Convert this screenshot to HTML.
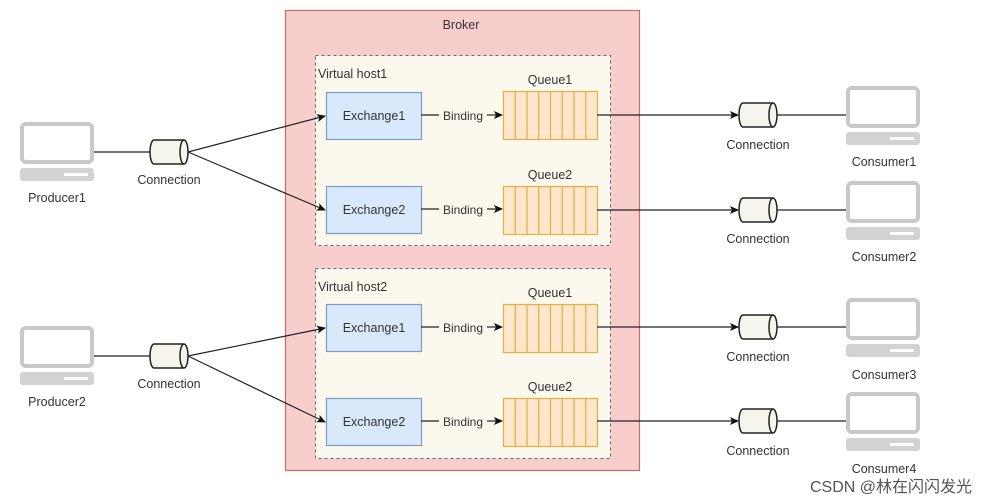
<!DOCTYPE html>
<html><head><meta charset="utf-8"><style>
html,body{margin:0;padding:0;background:#fff;width:986px;height:504px;overflow:hidden}
svg text{font-family:"Liberation Sans",Arial,sans-serif;font-size:12.5px;fill:#333}
</style></head><body>
<svg width="986" height="504" viewBox="0 0 986 504" xmlns="http://www.w3.org/2000/svg">
<defs>
<marker id="a" markerWidth="10" markerHeight="10" refX="8" refY="4" orient="auto" markerUnits="userSpaceOnUse"><path d="M0,0 L9,4 L0,8 L2,4 Z" fill="#111"/></marker>
<g id="lap"><rect x="2" y="2" width="70" height="38" rx="4" fill="#fff" stroke="#c9c9c9" stroke-width="4"/><rect x="0" y="46" width="74" height="13" rx="3" fill="#d2d2d2"/><rect x="44" y="51" width="24" height="3" fill="#fff"/></g>
<g id="cyl"><path d="M-15,-12 H15 A4,12 0 0 1 15,12 H-15 A4,12 0 0 1 -15,-12 Z" fill="#f5f5ee" stroke="#222" stroke-width="1.5"/><path d="M15,-12 A4,12 0 0 0 15,12" fill="none" stroke="#222" stroke-width="1.5"/></g>
<g id="q"><rect x="0" y="0" width="94" height="48" fill="#ffe6cc" stroke="#e0b040" stroke-width="1.2"/>
<path d="M11.75,0V48M23.5,0V48M35.25,0V48M47,0V48M58.75,0V48M70.5,0V48M82.25,0V48" stroke="#e0b040" stroke-width="1.2"/></g>
</defs>
<rect x="285.5" y="10.5" width="354" height="460" fill="#f8cecc" stroke="#c76b68" stroke-width="1.2"/>
<text x="461" y="29" text-anchor="middle">Broker</text>
<rect x="315.5" y="55.5" width="295" height="190" fill="#fbf8ee" stroke="#666" stroke-dasharray="3,3"/>
<rect x="315.5" y="268.5" width="295" height="190" fill="#fbf8ee" stroke="#666" stroke-dasharray="3,3"/>
<text x="318" y="78">Virtual host1</text>
<text x="318" y="291">Virtual host2</text>

<g fill="#dae8fc" stroke="#7a9cc8" stroke-width="1.2">
<rect x="326.5" y="92.5" width="95" height="47"/><rect x="326.5" y="186.5" width="95" height="47"/>
<rect x="326.5" y="304.5" width="95" height="47"/><rect x="326.5" y="398.5" width="95" height="47"/>
</g>
<text x="374" y="120" text-anchor="middle">Exchange1</text>
<text x="374" y="214" text-anchor="middle">Exchange2</text>
<text x="374" y="332" text-anchor="middle">Exchange1</text>
<text x="374" y="426" text-anchor="middle">Exchange2</text>

<use href="#q" x="503.5" y="91.5"/><use href="#q" x="503.5" y="186.5"/>
<use href="#q" x="503.5" y="304.5"/><use href="#q" x="503.5" y="398.5"/>
<text x="550" y="84" text-anchor="middle">Queue1</text>
<text x="550" y="179" text-anchor="middle">Queue2</text>
<text x="550" y="297" text-anchor="middle">Queue1</text>
<text x="550" y="391" text-anchor="middle">Queue2</text>

<g stroke="#222" stroke-width="1.2" fill="none">
<line x1="421" y1="115" x2="439" y2="115"/><line x1="421" y1="209" x2="439" y2="209"/>
<line x1="421" y1="327" x2="439" y2="327"/><line x1="421" y1="421" x2="439" y2="421"/>
<line x1="487" y1="115" x2="502" y2="115" marker-end="url(#a)"/>
<line x1="487" y1="209" x2="502" y2="209" marker-end="url(#a)"/>
<line x1="487" y1="327" x2="502" y2="327" marker-end="url(#a)"/>
<line x1="487" y1="421" x2="502" y2="421" marker-end="url(#a)"/>
<line x1="94" y1="152" x2="150" y2="152"/><line x1="94" y1="356" x2="150" y2="356"/>
<line x1="188" y1="152" x2="325" y2="116" marker-end="url(#a)"/>
<line x1="188" y1="152" x2="325" y2="210" marker-end="url(#a)"/>
<line x1="188" y1="356" x2="325" y2="328" marker-end="url(#a)"/>
<line x1="188" y1="356" x2="325" y2="422" marker-end="url(#a)"/>
<line x1="597" y1="115" x2="738" y2="115" marker-end="url(#a)"/>
<line x1="597" y1="210" x2="738" y2="210" marker-end="url(#a)"/>
<line x1="597" y1="327" x2="738" y2="327" marker-end="url(#a)"/>
<line x1="597" y1="421" x2="738" y2="421" marker-end="url(#a)"/>
<line x1="777" y1="115" x2="846" y2="115"/><line x1="777" y1="210" x2="846" y2="210"/>
<line x1="777" y1="327" x2="846" y2="327"/><line x1="777" y1="421" x2="846" y2="421"/>
</g>
<g style="font-size:12px">
<text x="463" y="120" text-anchor="middle" style="font-size:12px">Binding</text>
<text x="463" y="214" text-anchor="middle" style="font-size:12px">Binding</text>
<text x="463" y="332" text-anchor="middle" style="font-size:12px">Binding</text>
<text x="463" y="426" text-anchor="middle" style="font-size:12px">Binding</text>
</g>

<use href="#lap" x="20" y="122"/><use href="#lap" x="20" y="326"/>
<text x="57" y="202" text-anchor="middle">Producer1</text>
<text x="57" y="406" text-anchor="middle">Producer2</text>
<use href="#cyl" x="169" y="152"/><use href="#cyl" x="169" y="356"/>
<text x="169" y="184" text-anchor="middle">Connection</text>
<text x="169" y="388" text-anchor="middle">Connection</text>

<use href="#cyl" x="758" y="115"/><use href="#cyl" x="758" y="210"/>
<use href="#cyl" x="758" y="327"/><use href="#cyl" x="758" y="421"/>
<text x="758" y="149" text-anchor="middle">Connection</text>
<text x="758" y="243" text-anchor="middle">Connection</text>
<text x="758" y="361" text-anchor="middle">Connection</text>
<text x="758" y="455" text-anchor="middle">Connection</text>

<use href="#lap" x="846" y="86"/><use href="#lap" x="846" y="181"/>
<use href="#lap" x="846" y="298"/><use href="#lap" x="846" y="392"/>
<text x="884" y="166" text-anchor="middle">Consumer1</text>
<text x="884" y="261" text-anchor="middle">Consumer2</text>
<text x="884" y="379" text-anchor="middle">Consumer3</text>
<text x="884" y="473" text-anchor="middle">Consumer4</text>

<text x="972" y="492" text-anchor="end" style="font-family:'Liberation Sans','Noto Sans CJK SC',sans-serif;font-size:16px;fill:#555">CSDN @林在闪闪发光</text>
</svg>
</body></html>
